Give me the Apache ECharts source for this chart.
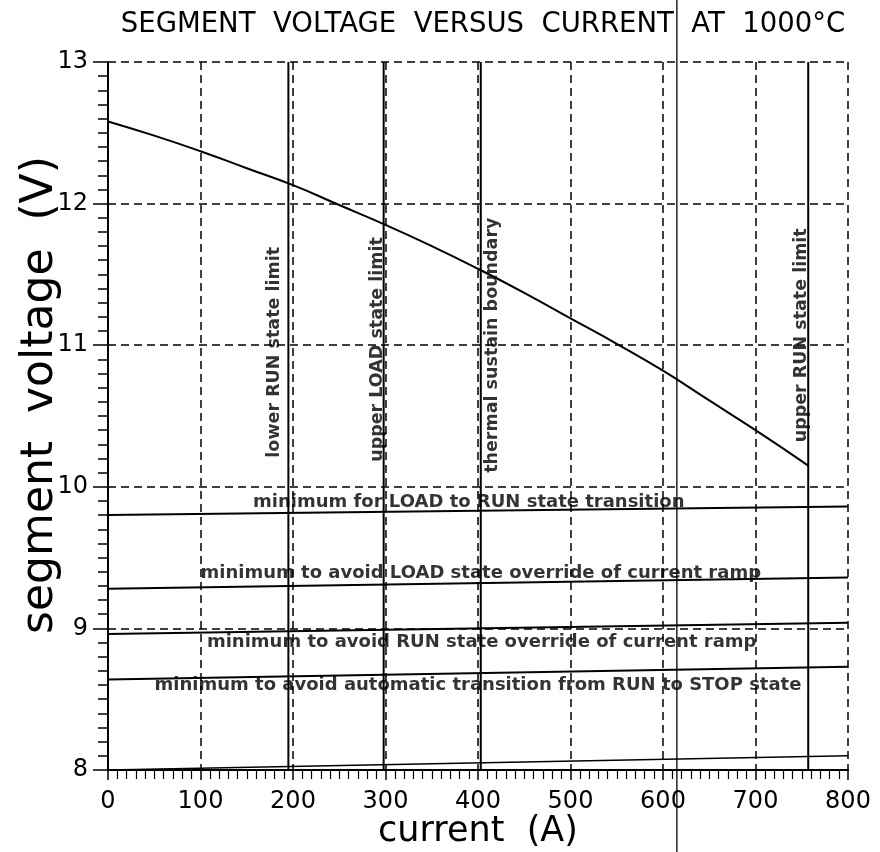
<!DOCTYPE html>
<html>
<head>
<meta charset="utf-8">
<title>Segment voltage versus current</title>
<script src="https://cdn.jsdelivr.net/npm/echarts@6/dist/echarts.min.js"></script>
<style>
  html, body { margin: 0; padding: 0; background: #fff; }
  #chart { width: 880px; height: 852px; }
</style>
</head>
<body>
<div id="chart"></div>
<script>
// axis ticks
const xTicks = [0, 100, 200, 300, 400, 500, 600, 700, 800]
const yTicks = [8, 9, 10, 11, 12, 13]

// V-I curve at 1000 C
const curveCurrent = [0, 50, 100, 150, 200, 250, 300, 350, 400, 450, 500, 550, 600, 650, 700, 757]
const curveVoltage = [12.58, 12.48, 12.37, 12.25, 12.13, 11.99, 11.85, 11.70, 11.54, 11.37, 11.19, 11.01, 10.82, 10.61, 10.40, 10.15]

// vertical current limits
const vLimitNames = ['lower RUN state limit', 'upper LOAD state limit', 'thermal sustain boundary', 'upper RUN state limit']
const vLimitCurrent = [195, 298, 403, 757]

// horizontal voltage minimums (drawn slightly sloped as in the plot)
const hLimitNames = [
  'minimum for LOAD to RUN state transition',
  'minimum to avoid LOAD state override of current ramp',
  'minimum to avoid RUN state override of current ramp',
  'minimum to avoid automatic transition from RUN to STOP state'
]
const hLimitLeft = [9.80, 9.28, 8.96, 8.64]
const hLimitRight = [9.86, 9.36, 9.04, 8.73]

// baseline trace just above the axis and the stray scan line
const baseLeft = 8.0
const baseRight = 8.1
const strayCurrent = 615

const FONT = 'DejaVu Sans'
const BLACK = '#000'

// where the rotated / horizontal captions sit, in data units
const vLabelAt = [[180, 10.95], [291, 10.97], [416, 11.0], [750, 11.07]]
const hLabelAt = [[390, 9.89], [403, 9.39], [404, 8.90], [400, 8.60]]

const chart = echarts.init(document.getElementById('chart'))

const series = []

series.push({
  name: 'curve',
  type: 'line',
  smooth: true,
  symbol: 'none',
  data: curveCurrent.map((c, i) => [c, curveVoltage[i]]),
  lineStyle: { color: BLACK, width: 2 },
  z: 5
})

vLimitCurrent.forEach((c, i) => {
  series.push({
    name: vLimitNames[i],
    type: 'line',
    symbol: 'none',
    data: [[c, 8], [c, 13]],
    lineStyle: { color: BLACK, width: 2 },
    z: 4
  })
})

hLimitNames.forEach((n, i) => {
  series.push({
    name: n,
    type: 'line',
    symbol: 'none',
    data: [[0, hLimitLeft[i]], [800, hLimitRight[i]]],
    lineStyle: { color: BLACK, width: 2 },
    z: 4
  })
})

series.push({
  name: 'base',
  type: 'line',
  symbol: 'none',
  data: [[0, baseLeft], [800, baseRight]],
  lineStyle: { color: BLACK, width: 1.5 },
  z: 4
})

series.push({
  name: 'stray',
  type: 'line',
  symbol: 'none',
  clip: false,
  data: [[strayCurrent, 13.44], [strayCurrent, 7.42]],
  lineStyle: { color: BLACK, width: 1.3 },
  z: 4
})

const captionLabel = {
  show: true,
  position: 'inside',
  align: 'center',
  verticalAlign: 'middle',
  formatter: '{b}',
  fontFamily: FONT,
  fontWeight: 'bold',
  color: BLACK,
  textBorderWidth: 0
}

series.push({
  name: 'vlabels',
  type: 'scatter',
  symbolSize: 0,
  silent: true,
  itemStyle: { color: BLACK },
  data: vLabelAt.map((p, i) => ({ value: p, name: vLimitNames[i] })),
  label: Object.assign({}, captionLabel, { rotate: 90, fontSize: 17.5 }),
  z: 6
})

series.push({
  name: 'hlabels',
  type: 'scatter',
  symbolSize: 0,
  silent: true,
  itemStyle: { color: BLACK },
  data: hLabelAt.map((p, i) => ({ value: p, name: hLimitNames[i] })),
  label: Object.assign({}, captionLabel, { fontSize: 18 }),
  z: 6
})

const dashed = { show: true, lineStyle: { color: BLACK, width: 1.5, type: [8, 5] } }

chart.setOption({
  backgroundColor: '#fff',
  animation: false,
  title: {
    text: 'SEGMENT  VOLTAGE  VERSUS  CURRENT  AT  1000°C',
    left: 478,
    top: 6,
    textAlign: 'center',
    textStyle: { fontFamily: FONT, fontSize: 27.5, fontWeight: 'normal', color: BLACK }
  },
  grid: { left: 108, right: 32, top: 62, bottom: 82, outerBoundsMode: 'none' },
  xAxis: {
    type: 'value',
    min: xTicks[0],
    max: xTicks[xTicks.length - 1],
    interval: 100,
    name: 'current  (A)',
    nameLocation: 'middle',
    nameGap: 44,
    nameMoveOverlap: false,
    nameTextStyle: { fontFamily: FONT, fontSize: 35, color: BLACK },
    axisLine: { show: true, lineStyle: { color: BLACK, width: 2 } },
    axisTick: { show: true, length: 10, lineStyle: { color: BLACK, width: 1.5 } },
    minorTick: { show: true, splitNumber: 10, length: 9, lineStyle: { color: BLACK, width: 1.2 } },
    axisLabel: { fontFamily: FONT, fontSize: 24, color: BLACK, margin: 20 },
    splitLine: dashed
  },
  yAxis: {
    type: 'value',
    min: yTicks[0],
    max: yTicks[yTicks.length - 1],
    interval: 1,
    name: 'segment  voltage  (V)',
    nameLocation: 'middle',
    nameRotate: 90,
    nameGap: 45,
    nameMoveOverlap: false,
    nameTextStyle: { fontFamily: FONT, fontSize: 44, color: BLACK, padding: [0, 0, 0, 42] },
    axisLine: { show: true, lineStyle: { color: BLACK, width: 2 } },
    axisTick: { show: true, length: 15, lineStyle: { color: BLACK, width: 1.5 } },
    minorTick: { show: true, splitNumber: 10, length: 10, lineStyle: { color: BLACK, width: 1.5 } },
    axisLabel: { fontFamily: FONT, fontSize: 24, color: BLACK, margin: 20 },
    splitLine: dashed
  },
  series: series
})
</script>
</body>
</html>
